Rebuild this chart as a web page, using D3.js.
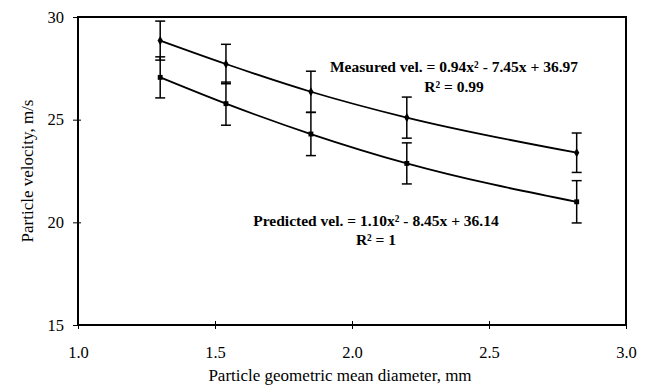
<!DOCTYPE html>
<html>
<head>
<meta charset="utf-8">
<script src="https://cdn.jsdelivr.net/npm/d3@7"></script>
<style>
  body { margin: 0; background: #fff; }
  svg { display: block; }
  text { font-family: 'Liberation Serif', 'Times New Roman', serif; fill: #000; }
</style>
</head>
<body>
<svg id="chart"></svg>
<script>
// particle diameter (mm)
const diameters = [1.30, 1.54, 1.85, 2.20, 2.82]
// measured velocity and its error
const measured = [28.85, 27.71, 26.36, 25.10, 23.39]
const measuredErr = [0.95, 0.96, 1.0, 1.0, 0.96]
// predicted velocity and its error
const predicted = [27.06, 25.78, 24.30, 22.87, 21.00]
const predictedErr = [1.0, 1.05, 1.05, 1.0, 1.03]

const xTicks = [1.0, 1.5, 2.0, 2.5, 3.0]
const yTicks = [15, 20, 25, 30]

const width = 648
const height = 385
const margin = { top: 17, right: 22, bottom: 60, left: 78 }

const svg = d3.select('#chart')
  .attr('width', width)
  .attr('height', height)

const x = d3.scaleLinear().domain([1, 3]).range([margin.left, width - margin.right])
const y = d3.scaleLinear().domain([15, 30]).range([height - margin.bottom, margin.top])

// frame
svg.append('rect')
  .attr('x', x(1))
  .attr('y', y(30))
  .attr('width', x(3) - x(1))
  .attr('height', y(15) - y(30))
  .attr('fill', 'none')
  .attr('stroke', '#000')
  .attr('stroke-width', 2)

// axes
let xAxis = svg.append('g')
  .attr('transform', `translate(0,${y(15)})`)
  .call(d3.axisBottom(x).tickValues(xTicks).tickFormat(d3.format('.1f')).tickSizeInner(4).tickSizeOuter(0))
xAxis.select('.domain').remove()
xAxis.selectAll('line').attr('y1', -4).attr('stroke-width', 1)
xAxis.selectAll('text')
  .attr('y', 21)
  .attr('font-size', 16.5)
  .style('font-family', "'Liberation Serif', 'Times New Roman', serif")

let yAxis = svg.append('g')
  .attr('transform', `translate(${x(1)},0)`)
  .call(d3.axisLeft(y).tickValues(yTicks).tickSizeInner(5).tickSizeOuter(0))
yAxis.select('.domain').remove()
yAxis.selectAll('line').attr('x2', -5).attr('x1', 3).attr('stroke-width', 1)
yAxis.selectAll('text')
  .attr('x', -14)
  .attr('font-size', 16.5)
  .style('font-family', "'Liberation Serif', 'Times New Roman', serif")

// axis titles
svg.append('text')
  .attr('x', 340)
  .attr('y', 381)
  .attr('text-anchor', 'middle')
  .attr('font-size', 17)
  .text('Particle geometric mean diameter, mm')

svg.append('text')
  .attr('transform', `translate(33,171)rotate(-90)`)
  .attr('text-anchor', 'middle')
  .attr('font-size', 17)
  .text('Particle velocity, m/s')

// series
const series = [
  { name: 'measured', values: measured, err: measuredErr, shape: d3.symbolDiamond },
  { name: 'predicted', values: predicted, err: predictedErr, shape: d3.symbolSquare }
]

const line = d3.line()
  .x(d => x(d[0]))
  .y(d => y(d[1]))
  .curve(d3.curveMonotoneX)

series.forEach(s => {
  let pts = diameters.map((d, i) => [d, s.values[i], s.err[i]])

  let g = svg.append('g').attr('class', s.name)

  // error bars
  let bars = g.selectAll('g.err')
    .data(pts)
    .enter().append('g')
    .attr('class', 'err')
    .attr('stroke', '#000')
    .attr('stroke-width', 1.5)
  bars.append('line')
    .attr('x1', d => x(d[0])).attr('x2', d => x(d[0]))
    .attr('y1', d => y(d[1] - d[2])).attr('y2', d => y(d[1] + d[2]))
  bars.append('line')
    .attr('x1', d => x(d[0]) - 5).attr('x2', d => x(d[0]) + 5)
    .attr('y1', d => y(d[1] + d[2])).attr('y2', d => y(d[1] + d[2]))
  bars.append('line')
    .attr('x1', d => x(d[0]) - 5).attr('x2', d => x(d[0]) + 5)
    .attr('y1', d => y(d[1] - d[2])).attr('y2', d => y(d[1] - d[2]))

  g.append('path')
    .datum(pts)
    .attr('d', line)
    .attr('fill', 'none')
    .attr('stroke', '#000')
    .attr('stroke-width', 1.8)

  g.selectAll('path.mark')
    .data(pts)
    .enter().append('path')
    .attr('class', 'mark')
    .attr('transform', d => `translate(${x(d[0])},${y(d[1])})`)
    .attr('d', d3.symbol().type(s.shape).size(24))
    .attr('fill', '#000')
})

// equations
const eqSize = 15.5
svg.append('text')
  .attr('x', 454).attr('y', 72)
  .attr('text-anchor', 'middle')
  .attr('font-size', eqSize)
  .attr('font-weight', 'bold')
  .text('Measured vel. = 0.94x\u00b2 - 7.45x + 36.97')
svg.append('text')
  .attr('x', 454).attr('y', 92)
  .attr('text-anchor', 'middle')
  .attr('font-size', eqSize)
  .attr('font-weight', 'bold')
  .text('R\u00b2 = 0.99')

svg.append('text')
  .attr('x', 376).attr('y', 226)
  .attr('text-anchor', 'middle')
  .attr('font-size', eqSize)
  .attr('font-weight', 'bold')
  .text('Predicted vel. = 1.10x\u00b2 - 8.45x + 36.14')
svg.append('text')
  .attr('x', 376).attr('y', 245)
  .attr('text-anchor', 'middle')
  .attr('font-size', eqSize)
  .attr('font-weight', 'bold')
  .text('R\u00b2 = 1')
</script>
</body>
</html>
